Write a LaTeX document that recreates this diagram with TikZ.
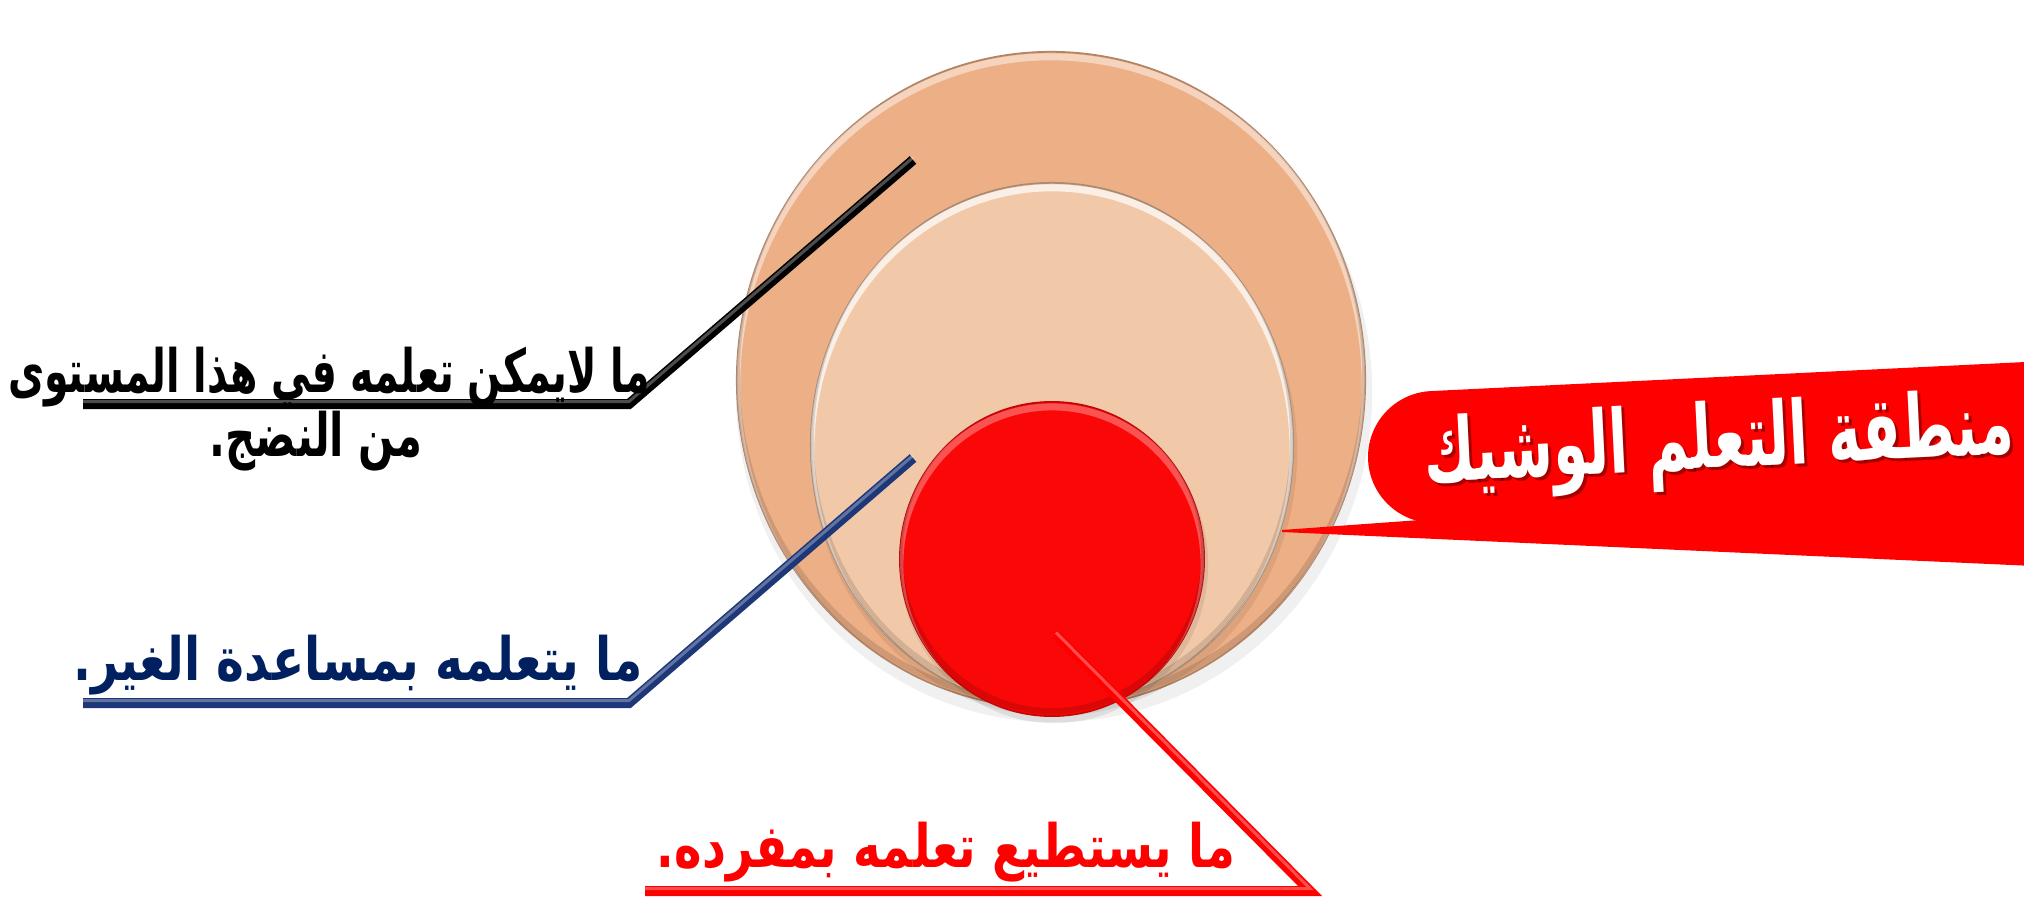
\documentclass[tikz,border=0pt]{standalone}
\usepackage{fontspec}
\usepackage{graphicx}
\TeXXeTstate=1
\newfontfamily\arabicfont[Script=Arabic]{DejaVu Sans}
\usetikzlibrary{shapes.geometric}
\definecolor{outerc}{RGB}{237,175,134}
\definecolor{midc}{RGB}{241,200,168}
\definecolor{redc}{RGB}{250,8,8}
\definecolor{navy}{RGB}{30,55,120}
\definecolor{navytext}{RGB}{0,32,96}
\tikzset{
  disc/.style={ellipse, inner sep=0pt, line width=0.5pt},
  leader/.style={line width=0.1cm, line join=miter, line cap=butt},
  hilite/.style={line width=0.03cm, line join=miter, white, opacity=0.3},
  lbl/.style={font=\arabicfont\bfseries\fontsize{17}{26}\selectfont, align=center, inner sep=0pt},
  zonefont/.style={font=\arabicfont\bfseries\fontsize{25}{30}\selectfont, inner sep=0pt},
  rimlight/.style={white, line width=0.07cm, opacity=0.45},
  rimdark/.style={black, line width=0.06cm, opacity=0.12},
}
\begin{document}
\begin{tikzpicture}[x=0.01cm,y=-0.01cm]
\useasboundingbox (0,0) rectangle (2024,912);
\clip (0,0) rectangle (2024,912);
% soft shadow
\fill[black, opacity=0.06] (1054,392) ellipse [x radius=3.18cm, y radius=3.30cm];
% discs
\node[disc, fill=outerc, draw=outerc!75!black, minimum width=6.28cm, minimum height=6.56cm] (outer) at (1051,380) {};
\begin{scope}
  \clip (outer.center) ellipse [x radius=3.14cm, y radius=3.28cm];
  \draw[rimlight] ([yshift=-0.05cm]outer.center) ellipse [x radius=3.14cm, y radius=3.28cm];
  \draw[rimdark] ([yshift=0.05cm]outer.center) ellipse [x radius=3.14cm, y radius=3.28cm];
\end{scope}
\fill[black, opacity=0.07] (1054,452) ellipse [x radius=2.43cm, y radius=2.64cm];
\node[disc, fill=midc, draw=midc!70!black, minimum width=4.82cm, minimum height=5.24cm] (middle) at (1052,445) {};
\begin{scope}
  \clip (middle.center) ellipse [x radius=2.41cm, y radius=2.62cm];
  \draw[rimlight, opacity=0.7] ([yshift=-0.05cm]middle.center) ellipse [x radius=2.41cm, y radius=2.62cm];
  \draw[rimdark] ([yshift=0.05cm]middle.center) ellipse [x radius=2.41cm, y radius=2.62cm];
\end{scope}
\fill[black, opacity=0.08] (1054,565) ellipse [x radius=1.54cm, y radius=1.58cm];
\node[disc, fill=redc, draw=redc!80!black, minimum width=3.04cm, minimum height=3.14cm] (inner) at (1052,559) {};
\begin{scope}
  \clip (inner.center) ellipse [x radius=1.52cm, y radius=1.57cm];
  \draw[rimlight, opacity=0.3] ([yshift=-0.05cm]inner.center) ellipse [x radius=1.52cm, y radius=1.57cm];
  \draw[rimdark] ([yshift=0.05cm]inner.center) ellipse [x radius=1.52cm, y radius=1.57cm];
\end{scope}
% callout
\begin{scope}[shift={(1434,457)}, rotate=2.8]
  \fill[red] (-66,-66) [rounded corners=0.66cm] rectangle (800,66);
\end{scope}
\coordinate (tip) at (1282,530);
\fill[red] (tip) -- (1420,520) -- (2100,490) -- (2100,569) -- (1282,532) -- cycle;
\node[zonefont, black, opacity=0.35, rotate=2.8] (zoneshadow) at (1722,448) {\scalebox{0.635}[1]{\beginR منطقة التعلم الوشيك\endR}};
\node[zonefont, white, rotate=2.8] (zone) at (1719,445) {\scalebox{0.635}[1]{\beginR منطقة التعلم الوشيك\endR}};
% leaders
\coordinate (b1) at (913,160); \coordinate (b2) at (629,404); \coordinate (b3) at (83,404);
\coordinate (n1) at (913,458); \coordinate (n2) at (629,703); \coordinate (n3) at (83,703);
\coordinate (r1) at (1056,635); \coordinate (r2) at (1310,891); \coordinate (r3) at (645,891);
\draw[leader, black] (b1) -- (b2) -- (b3);
\draw[leader, navy] (n1) -- (n2) -- (n3);
\draw[leader, red] (r1) -- (r2) -- (r3);
\draw[hilite] ([yshift=0.025cm]b1) -- ([yshift=0.025cm]b2) -- ([yshift=0.025cm]b3);
\draw[hilite] ([yshift=0.025cm]n1) -- ([yshift=0.025cm]n2) -- ([yshift=0.025cm]n3);
\draw[hilite] ([yshift=0.025cm]r1) -- ([yshift=0.025cm]r2) -- ([yshift=0.025cm]r3);
% labels
\node[lbl, black] (t1) at (329,377) {\scalebox{0.66}[1]{\beginR ما لايمكن تعلمه في هذا المستوى\endR}};
\node[lbl, black] (t1b) at (316,441) {\scalebox{0.7}[1]{\beginR من النضج.\endR}};
\node[lbl, navytext] (t2) at (358,665) {\scalebox{0.79}[1]{\beginR ما يتعلمه بمساعدة الغير.\endR}};
\node[lbl, red] (t3) at (946,852) {\scalebox{0.78}[1]{\beginR ما يستطيع تعلمه بمفرده.\endR}};
\end{tikzpicture}
\end{document}
